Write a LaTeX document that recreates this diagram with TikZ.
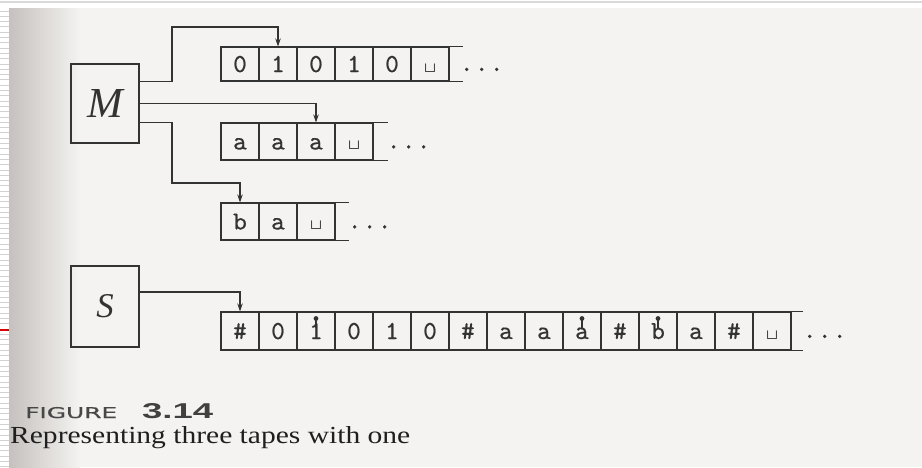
\documentclass[tikz,border=0pt]{standalone}
\usepackage{fontspec}
\usepackage{graphicx}
\usetikzlibrary{arrows.meta}
\newfontfamily\capsans{DejaVu Sans}[FakeBold=0.7]
\newfontfamily\numsans{Liberation Sans}
\newfontfamily\capserif{Liberation Serif}
\newfontfamily\tapefont{lmmono10-regular}[Extension=.otf, FakeBold=0.45]
\definecolor{ink}{HTML}{333333}
\definecolor{paper}{HTML}{F4F3F1}
\definecolor{shade}{HTML}{C6C1BE}
\newcommand\tblank{\resizebox{12pt}{8pt}{\boldmath$\sqcup$}}
\newcommand\tapedots{.\kern1.35pt.\kern1.35pt.}
\tikzset{
  ln/.style={draw=ink, line width=1.1pt},
  cell/.style={ln, rectangle, minimum width=38pt, inner sep=0pt,
    font=\tapefont\fontsize{26}{28}\selectfont, text=ink,
    text height=16pt, text depth=0pt},
  ctrl/.style={ln, rectangle, minimum width=68pt, inner sep=0pt, text=ink},
  arr/.style={ln, -{Stealth[length=8pt,width=5.5pt]}},
  tdots/.style={anchor=base west, inner sep=0pt,
    font=\tapefont\fontsize{26}{28}\selectfont, text=ink},
  capt/.style={anchor=base west, inner sep=0pt},
}
\begin{document}
\begin{tikzpicture}[x=1pt,y=-1pt]
\useasboundingbox (0,0) rectangle (922,467);
% page background
\fill[white] (0,0) rectangle (922,467);
\fill[paper] (9,8) rectangle (922,467);
\shade[left color=shade, right color=paper] (9,8) rectangle (80,467);
\draw[gray!30, line width=1.5pt] (0,2) -- (922,2);
\foreach \k in {0,...,86} \draw[gray!35, line width=0.9pt] (0,{11+5.3*\k}) -- (9,{11+5.3*\k});
\draw[red!85!black, line width=1.5pt] (0,330) -- (9,330);

% control boxes
\node[ctrl, minimum height=79pt] (M) at (105,103.5) {\resizebox{!}{28pt}{\capserif\itshape M}};
\node[ctrl, minimum height=81pt] (S) at (105,306.5) {\resizebox{!}{23pt}{\capserif\itshape S}};

% tape 1
\foreach \s [count=\i] in {0,1,0,1,0,\tblank}
  \node[cell, minimum height=34pt] (ta-\i) at ({202+38*\i},64) {\s};
\draw[ln] (ta-6.north east) -- ++(13,0) (ta-6.south east) -- ++(13,0);
\node[tdots] (ta-dots) at (459.7,71) {\tapedots};

% tape 2
\foreach \s [count=\i] in {a,a,a,\tblank}
  \node[cell, minimum height=37pt] (tb-\i) at ({202+38*\i},141.5) {\s};
\draw[ln] (tb-4.north east) -- ++(14,0) (tb-4.south east) -- ++(14,0);
\node[tdots] (tb-dots) at (386.7,148.5) {\tapedots};

% tape 3
\foreach \s [count=\i] in {b,a,\tblank}
  \node[cell, minimum height=37pt] (tc-\i) at ({202+38*\i},221.5) {\s};
\draw[ln] (tc-3.north east) -- ++(13,0) (tc-3.south east) -- ++(13,0);
\node[tdots] (tc-dots) at (347.7,228.5) {\tapedots};

% single tape of S
\foreach \s [count=\i] in {\#,0,1,0,1,0,\#,a,a,a,\#,b,a,\#,\tblank}
  \node[cell, minimum height=38pt] (td-\i) at ({202+38*\i},331) {\s};
\draw[ln] (td-15.north east) -- ++(11,0) (td-15.south east) -- ++(11,0);
\node[tdots] (td-dots) at (802.7,338) {\tapedots};
\foreach \i in {3,10,12} {
  \draw[ink, line width=1.1pt] ([yshift=12pt]td-\i.center) -- ([yshift=3pt]td-\i.center);
  \fill[ink] ([yshift=12.5pt]td-\i.center) circle (2.4pt);
}

% heads
\coordinate (k1) at (172,27);
\coordinate (k3) at (172,183);
\draw[arr] (M.east |- ta-1.south) -| (k1) -| (ta-2.north);
\draw[arr] (M.east) -| (tb-3.north);
\draw[arr] (M.east |- tb-1.north) -| (k3) -| (tc-1.north);
\draw[arr] (S.east |- 0,292) -| (td-1.north);

% caption
\node[capt, text=black!72] (fig) at (25,418) {\resizebox{92pt}{11pt}{\capsans FIGURE}};
\node[capt, text=black!75] (num) at (142,418) {\resizebox{71pt}{15pt}{\numsans\bfseries 3.14}};
\node[capt, text=black!88] (cap) at (10,443) {\resizebox{400pt}{17pt}{\capserif Representing three tapes with one}};
\end{tikzpicture}
\end{document}
